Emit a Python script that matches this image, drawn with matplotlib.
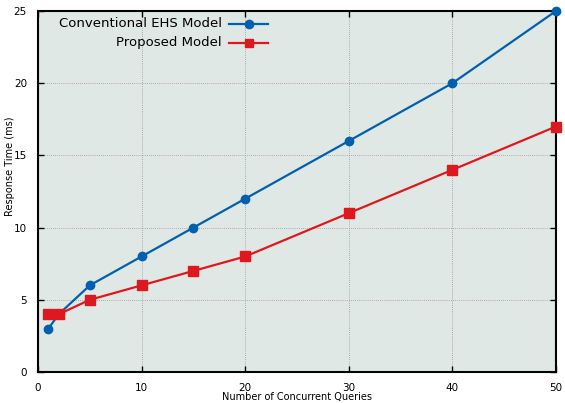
import matplotlib
matplotlib.use('Agg')
import matplotlib.pyplot as plt

# data
queries = [1, 2, 5, 10, 15, 20, 30, 40, 50]
ehs_times = [3, 4, 6, 8, 10, 12, 16, 20, 25]
proposed_times = [4, 4, 5, 6, 7, 8, 11, 14, 17]
series_names = ['Conventional EHS Model', 'Proposed Model']
x_ticks = [0, 10, 20, 30, 40, 50]
y_ticks = [0, 5, 10, 15, 20, 25]

blue = '#0060ad'
red = '#dd181f'

fig = plt.figure(figsize=(5.65, 4.03), dpi=100)
ax = fig.add_axes([38/565, 31/403, 518/565, 361/403])
ax.set_facecolor('#dfe8e4')

ax.plot(queries, ehs_times, color=blue, lw=1.6, marker='o', ms=6, zorder=3, clip_on=False)
ax.plot(queries, proposed_times, color=red, lw=1.6, marker='s', ms=6.5, zorder=3, clip_on=False)

ax.set_xlim(0, 50)
ax.set_ylim(0, 25)
ax.set_xticks(x_ticks)
ax.set_yticks(y_ticks)
ax.grid(True, color='#999999', ls=(0, (1, 1.5)), lw=0.6)
ax.set_axisbelow(True)

ax.tick_params(direction='in', length=4, width=1, labelsize=7.5, top=True, right=True, pad=8)
for s in ax.spines.values():
    s.set_linewidth(1.5)
    s.set_zorder(2.5)

ax.set_xlabel('Number of Concurrent Queries', fontsize=7)
ax.xaxis.set_label_coords(0.5, -0.055)
ax.set_ylabel('Response Time (ms)', fontsize=7)
ax.yaxis.set_label_coords(-0.045, 0.57)

# gnuplot style key: text right-aligned, sample to the right
colors = [blue, red]
markers = ['o', 's']
for i, name in enumerate(series_names):
    y = 1 - (13 + 19*i) / 361
    ax.text(184/518, y, name, transform=ax.transAxes, ha='right', va='center', fontsize=9.5)
    ax.plot([191/518, 230/518], [y, y], transform=ax.transAxes, color=colors[i], lw=1.6, clip_on=False)
    ax.plot([210.5/518], [y], transform=ax.transAxes, color=colors[i], marker=markers[i], ms=6, clip_on=False)

plt.savefig('out.png', dpi=100)
